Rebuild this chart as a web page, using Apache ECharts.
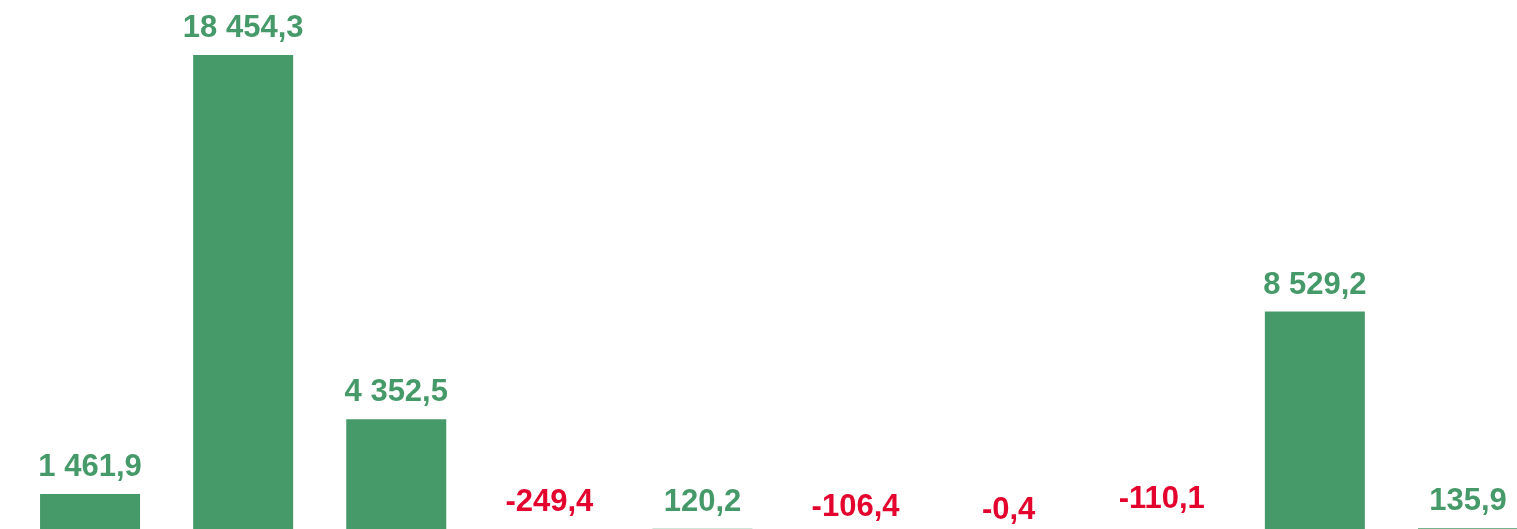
<!DOCTYPE html>
<html>
<head>
<meta charset="utf-8">
<style>
  html, body { margin:0; padding:0; background:#ffffff; }
  #chart { width:1517px; height:529px; }
</style>
<script src="https://cdn.jsdelivr.net/npm/echarts@6/dist/echarts.min.js"></script>
</head>
<body>
<div id="chart"></div>
<script>
var categories = ['1', '2', '3', '4', '5', '6', '7', '8', '9', '10'];
var values = [1461.9, 18454.3, 4352.5, -249.4, 120.2, -106.4, -0.4, -110.1, 8529.2, 135.9];

(function(){
  var el = document.getElementById('chart');
  var c = echarts.init(el);
  var green = '#469a69';
  var red = '#e3032d';

  // small vertical nudges for the red labels (they sit above the zero line)
  var nudge = { 3: -3, 5: 2, 6: 5, 7: -6 };

  function fmt(v) {
    var s = Math.abs(v).toFixed(1).split('.');
    var intPart = s[0].replace(/\B(?=(\d{3})+(?!\d))/g, ' ');
    return (v < 0 ? '-' : '') + intPart + ',' + s[1];
  }

  var data = values.map(function(v, i){
    return {
      value: v,
      itemStyle: { color: green },
      label: {
        color: v < 0 ? red : green,
        offset: [0, nudge[i] || 0]
      }
    };
  });

  c.setOption({
    animation: false,
    grid: { left: 13.5, width: 1531, top: 15.1, height: 568.4, containLabel: false, outerBoundsMode: 'none' },
    xAxis: {
      type: 'category', data: categories,
      axisLine: { show: false }, axisTick: { show: false }, axisLabel: { show: false },
      splitLine: { show: false }
    },
    yAxis: {
      type: 'value', min: -2000, max: 20000,
      show: false, splitLine: { show: false }
    },
    series: [{
      type: 'bar',
      data: data,
      barWidth: 100,
      label: {
        show: true,
        position: 'top',
        distance: 11,
        fontFamily: 'Liberation Sans, Arial, sans-serif',
        fontWeight: 'bold',
        fontSize: 31,
        formatter: function(p){ return fmt(p.value); }
      }
    }]
  });
})();
</script>
</body>
</html>
